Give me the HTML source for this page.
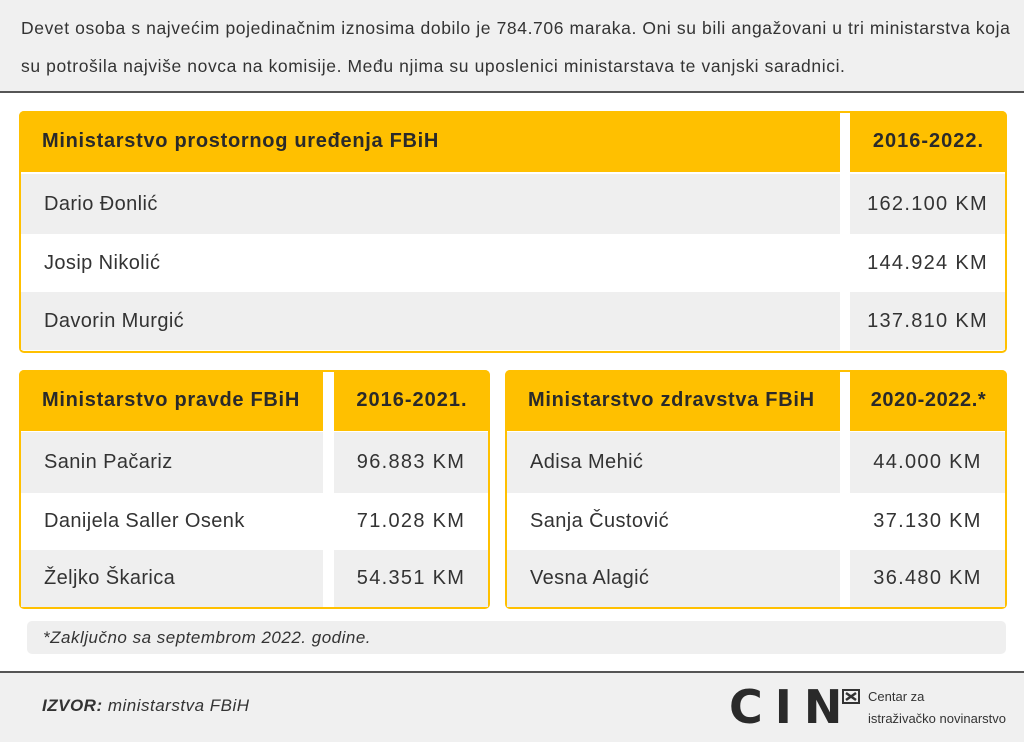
<!DOCTYPE html>
<html><head><meta charset="utf-8"><style>
body{margin:0;width:1024px;height:742px;position:relative;background:#fff;font-family:"Liberation Sans",sans-serif;color:#333;overflow:hidden}
.a{position:absolute;box-sizing:border-box}
.hd{background:#ffc000;font-weight:bold;font-size:20px;letter-spacing:0.7px;color:#2a2a2a;display:flex;align-items:center;white-space:nowrap}
.c{display:flex;align-items:center;font-size:20px;letter-spacing:0.4px;color:#333;white-space:nowrap}
.l{padding-left:23px}
.r{justify-content:center;letter-spacing:1.3px}
.g{background:#efefef}
.w{background:#fff}
.box{border:2px solid #ffc000;border-radius:5px}
</style></head><body>
<div class="a" style="left:0;top:0;width:1024px;height:93px;background:#f0f0f0;border-bottom:2px solid #555"></div>
<div class="a" style="left:21px;top:9px;width:1010px;font-size:17.5px;letter-spacing:0.6px;line-height:38px;color:#333;white-space:nowrap">Devet osoba s najvećim pojedinačnim iznosima dobilo je 784.706 maraka. Oni su bili angažovani u tri ministarstva koja<br>su potrošila najviše novca na komisije. Među njima su uposlenici ministarstava te vanjski saradnici.</div>

<!-- top table -->
<div class="a box" style="left:19px;top:111px;width:988px;height:242px"></div>
<div class="a hd l" style="left:19px;top:111px;width:821px;height:61px;border-radius:5px 0 0 0">Ministarstvo prostornog uređenja FBiH</div>
<div class="a hd r" style="left:850px;top:111px;width:157px;height:61px;border-radius:0 5px 0 0;letter-spacing:1px">2016-2022.</div>
<div class="a c l g" style="left:21px;top:174px;width:819px;height:60px">Dario Đonlić</div>
<div class="a c r g" style="left:850px;top:174px;width:155px;height:60px">162.100 KM</div>
<div class="a c l w" style="left:21px;top:234px;width:819px;height:58px">Josip Nikolić</div>
<div class="a c r w" style="left:850px;top:234px;width:155px;height:58px">144.924 KM</div>
<div class="a c l g" style="left:21px;top:292px;width:819px;height:58px">Davorin Murgić</div>
<div class="a c r g" style="left:850px;top:292px;width:155px;height:58px">137.810 KM</div>

<!-- bottom left -->
<div class="a box" style="left:19px;top:370px;width:471px;height:239px"></div>
<div class="a hd l" style="left:19px;top:370px;width:304px;height:61px;border-radius:5px 0 0 0">Ministarstvo pravde FBiH</div>
<div class="a hd r" style="left:334px;top:370px;width:156px;height:61px;border-radius:0 5px 0 0;letter-spacing:1px">2016-2021.</div>
<div class="a c l g" style="left:21px;top:432px;width:302px;height:61px">Sanin Pačariz</div>
<div class="a c r g" style="left:334px;top:432px;width:154px;height:61px">96.883 KM</div>
<div class="a c l w" style="left:21px;top:493px;width:302px;height:57px">Danijela Saller Osenk</div>
<div class="a c r w" style="left:334px;top:493px;width:154px;height:57px">71.028 KM</div>
<div class="a c l g" style="left:21px;top:550px;width:302px;height:57px">Željko Škarica</div>
<div class="a c r g" style="left:334px;top:550px;width:154px;height:57px">54.351 KM</div>

<!-- bottom right -->
<div class="a box" style="left:505px;top:370px;width:502px;height:239px"></div>
<div class="a hd l" style="left:505px;top:370px;width:335px;height:61px;border-radius:5px 0 0 0">Ministarstvo zdravstva FBiH</div>
<div class="a hd r" style="left:850px;top:370px;width:157px;height:61px;border-radius:0 5px 0 0;letter-spacing:0.6px">2020-2022.*</div>
<div class="a c l g" style="left:507px;top:432px;width:333px;height:61px">Adisa Mehić</div>
<div class="a c r g" style="left:850px;top:432px;width:155px;height:61px">44.000 KM</div>
<div class="a c l w" style="left:507px;top:493px;width:333px;height:57px">Sanja Čustović</div>
<div class="a c r w" style="left:850px;top:493px;width:155px;height:57px">37.130 KM</div>
<div class="a c l g" style="left:507px;top:550px;width:333px;height:57px">Vesna Alagić</div>
<div class="a c r g" style="left:850px;top:550px;width:155px;height:57px">36.480 KM</div>

<div class="a" style="left:27px;top:621px;width:979px;height:33px;background:#efefef;border-radius:5px;font-style:italic;font-size:17px;letter-spacing:0.5px;padding-left:16px;line-height:33px;white-space:nowrap">*Zaključno sa septembrom 2022. godine.</div>

<div class="a" style="left:0;top:671px;width:1024px;height:71px;background:#f0f0f0;border-top:2px solid #555"></div>
<div class="a" style="left:42px;top:696px;font-size:17px;letter-spacing:0.5px;font-style:italic;color:#333;white-space:nowrap"><b>IZVOR:</b> ministarstva FBiH</div>
<div class="a" style="left:729px;top:682px;font-size:46px;font-weight:900;color:#2a2a2a;letter-spacing:12px;font-family:'DejaVu Sans','Liberation Sans',sans-serif;line-height:50px">CIN</div>
<svg class="a" style="left:842px;top:689px" width="18" height="15" viewBox="0 0 18 15"><path d="M1 1h16v13H1z" fill="none" stroke="#333" stroke-width="2"/><path d="M4 4l10 7M14 4L4 11" stroke="#333" stroke-width="2.5"/></svg>
<div class="a" style="left:868px;top:686px;font-size:13px;color:#333;line-height:22px">Centar za<br>istraživačko novinarstvo</div>
</body></html>
